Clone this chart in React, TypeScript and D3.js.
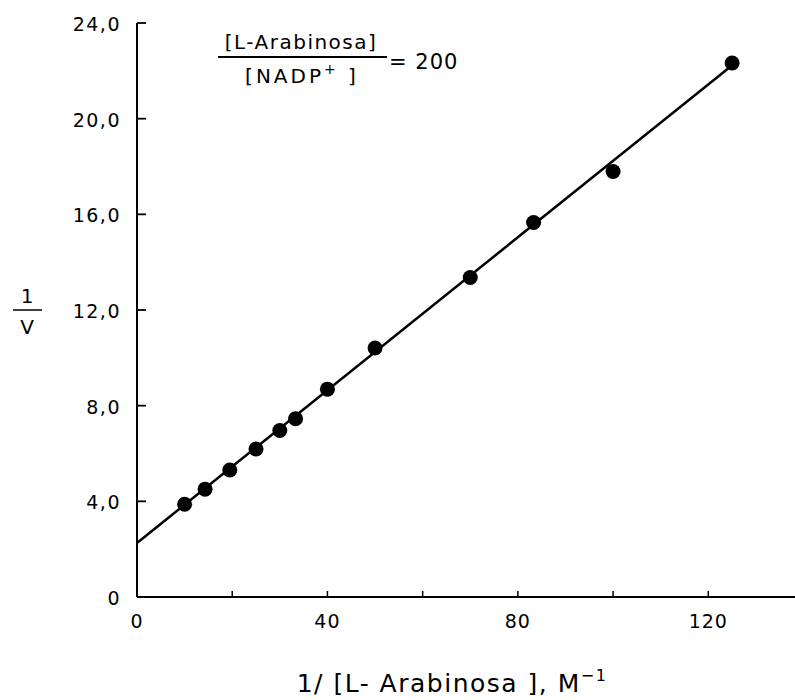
import { useEffect, useRef } from 'react';
import * as d3 from 'd3';

// 1/[S] values (M^-1) and the 1/v readings
const invSubstrate = [10, 14.3, 19.5, 25, 30, 33.3, 40, 50, 70, 83.3, 100, 125];
const invVelocity = [3.88, 4.51, 5.31, 6.19, 6.96, 7.45, 8.69, 10.41, 13.36, 15.66, 17.79, 22.33];

// fitted line end points
const fitX = [0, 124.5];
const fitY = [2.26, 22.15];

const xTicks = [20, 40, 60, 80, 100, 120];
const xTickLabels = [0, 40, 80, 120];
const yTicks = [4, 8, 12, 16, 20, 24];
const yTickLabels = ['0', '4,0', '8,0', '12,0', '16,0', '20,0', '24,0'];
const yTickLabelValues = [0, 4, 8, 12, 16, 20, 24];

const FONT = 'DejaVu Sans, sans-serif';

const LineweaverBurk = () => {
  const svgRef = useRef<SVGSVGElement>(null);

  useEffect(() => {
    const svg = d3.select(svgRef.current);
    svg.selectAll('*').remove();

    const x = d3.scaleLinear().domain([0, 138]).range([137, 794]);
    const y = d3.scaleLinear().domain([0, 24]).range([597, 23]);

    // axes lines
    svg.append('line')
      .attr('x1', x(0)).attr('x2', 795)
      .attr('y1', y(0)).attr('y2', y(0))
      .attr('stroke', '#000').attr('stroke-width', 2);
    svg.append('line')
      .attr('x1', x(0)).attr('x2', x(0))
      .attr('y1', y(0)).attr('y2', y(24))
      .attr('stroke', '#000').attr('stroke-width', 2);

    // x ticks point up into the plot
    svg.append('g').selectAll('line')
      .data(xTicks).enter().append('line')
      .attr('x1', d => x(d)).attr('x2', d => x(d))
      .attr('y1', y(0)).attr('y2', y(0) - 6)
      .attr('stroke', '#000').attr('stroke-width', 1.5);

    // y ticks point right
    svg.append('g').selectAll('line')
      .data(yTicks).enter().append('line')
      .attr('x1', x(0)).attr('x2', x(0) + 9)
      .attr('y1', d => y(d)).attr('y2', d => y(d))
      .attr('stroke', '#000').attr('stroke-width', 1.8);

    svg.append('g').selectAll('text')
      .data(xTickLabels).enter().append('text')
      .attr('x', d => x(d))
      .attr('y', y(0) + 31)
      .attr('text-anchor', 'middle')
      .attr('font-family', FONT)
      .attr('font-size', 19)
      .attr('letter-spacing', 1)
      .text(d => String(d));

    svg.append('g').selectAll('text')
      .data(yTickLabelValues).enter().append('text')
      .attr('x', 121)
      .attr('y', d => y(d) + 8)
      .attr('text-anchor', 'end')
      .attr('font-family', FONT)
      .attr('font-size', 19)
      .attr('letter-spacing', 1.5)
      .text((d, i) => yTickLabels[i]);

    // fitted line
    const lineGen = d3.line<number>()
      .x(d => x(d))
      .y((d, i) => y(fitY[i]));
    svg.append('path')
      .datum(fitX)
      .attr('d', lineGen)
      .attr('fill', 'none')
      .attr('stroke', '#000')
      .attr('stroke-width', 2.5);

    // data points
    svg.append('g').selectAll('circle')
      .data(invSubstrate).enter().append('circle')
      .attr('cx', d => x(d))
      .attr('cy', (d, i) => y(invVelocity[i]))
      .attr('r', 7.5)
      .attr('fill', '#000');

    // y axis label 1/v
    const yl = svg.append('g').attr('font-family', FONT).attr('font-size', 20);
    yl.append('text').attr('x', 27).attr('y', 303).attr('text-anchor', 'middle').text('1');
    yl.append('line').attr('x1', 13).attr('x2', 42).attr('y1', 310).attr('y2', 310)
      .attr('stroke', '#000').attr('stroke-width', 1.5);
    yl.append('text').attr('x', 27).attr('y', 334).attr('text-anchor', 'middle').text('V');

    // x axis title
    const xt = svg.append('text')
      .attr('x', 452)
      .attr('y', 692)
      .attr('text-anchor', 'middle')
      .attr('font-family', FONT)
      .attr('font-size', 25)
      .attr('letter-spacing', 1.5);
    xt.append('tspan').text('1/ [L- Arabinosa ], M');
    xt.append('tspan').attr('dy', -11).attr('font-size', 16).text('−1');

    // ratio annotation
    const ann = svg.append('g').attr('font-family', FONT).attr('font-size', 20);
    ann.append('text').attr('x', 301).attr('y', 49).attr('text-anchor', 'middle')
      .attr('letter-spacing', 1.5).text('[L-Arabinosa]');
    ann.append('line').attr('x1', 218).attr('x2', 387).attr('y1', 57).attr('y2', 57)
      .attr('stroke', '#000').attr('stroke-width', 1.8);
    const den = ann.append('text').attr('x', 302).attr('y', 83).attr('text-anchor', 'middle')
      .attr('letter-spacing', 3);
    den.append('tspan').text('[NADP');
    den.append('tspan').attr('dy', -9).attr('font-size', 14).text('+');
    den.append('tspan').attr('dy', 9).text(' ]');
    ann.append('text').attr('x', 389).attr('y', 69).attr('font-size', 21).attr('letter-spacing', 1).text('= 200');
  }, []);

  return (
    <svg
      ref={svgRef}
      width={795}
      height={700}
      style={{ position: 'absolute', left: 0, top: 0, background: '#fff' }}
    />
  );
};

export default function App() {
  return <LineweaverBurk />;
}
